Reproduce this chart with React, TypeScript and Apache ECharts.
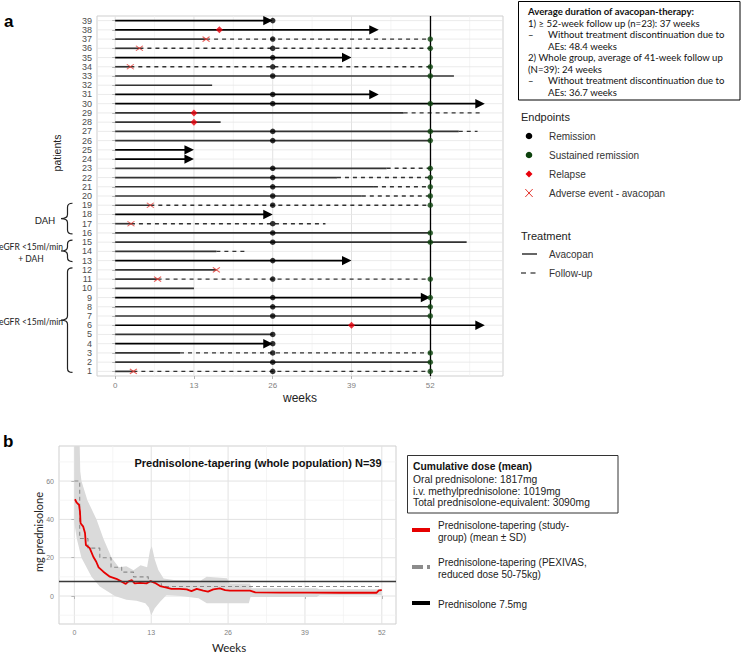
import React, { useEffect, useRef } from 'react';
import * as echarts from 'echarts';

// ---------------- DATA: panel a (patients timeline) ----------------
const patientLabels = ['1','2','3','4','5','6','7','8','9','10','11','12','13','14','15','16','17','18','19','20','21','22','23','24','25','26','27','28','29','30','31','32','33','34','35','36','37','38','39'];
// end of avacopan treatment (solid line), weeks, patient 1..39
const avacopanEnd = [3, 52, 10.7, 26, 26, 61, 52, 52, 52, 13, 7, 16.7, 39, 16.7, 58, 52, 2.6, 26, 5.8, 40.7, 42.7, 36.6, 44.8, 13, 13, 52, 56.7, 17.4, 47.6, 61, 43.5, 16, 55.9, 2.5, 39, 4, 15, 43.5, 26];
// end of follow-up (dashed line), weeks, patient 1..39
const followUpEnd = [52, null, 52, null, null, null, null, null, null, null, 52, null, null, 21.5, null, null, 34.7, null, 52, 52, 52, 52, 52, null, null, null, 59.8, null, 60.2, null, null, null, null, 52, null, 52, 52, null, null];
const ongoingPatients = [4, 6, 9, 13, 18, 24, 25, 30, 31, 35, 38, 39];
const remissionWeek = 26;
const remissionPatients = [1, 2, 3, 4, 5, 7, 8, 9, 11, 13, 15, 16, 17, 19, 20, 21, 22, 23, 26, 27, 30, 31, 33, 34, 35, 36, 37, 39];
const sustainedWeek = 52;
const sustainedPatients = [1, 2, 3, 7, 8, 9, 11, 15, 16, 19, 20, 21, 22, 23, 26, 27, 30, 33, 34, 36, 37];
const relapsePatients = [6, 28, 29, 38];
const relapseWeeks = [39, 13, 13, 17.2];
const aePatients = [1, 11, 12, 17, 19, 34, 36, 37];
const aeWeeks = [3, 7, 16.7, 2.6, 5.8, 2.5, 4, 15];
const weekTicks = [0, 13, 26, 39, 52];
const weekGrid = [0, 6.5, 13, 19.5, 26, 32.5, 39, 45.5, 52, 58.5];

// ---------------- DATA: panel b (prednisolone tapering) ----------------
const meanCurve = [[0.1, 50.5], [0.4, 48.7], [0.8, 47.5], [0.95, 44], [1.05, 38], [1.5, 36.2], [1.8, 32.9], [1.95, 26.6], [2.6, 25], [3.2, 20.5], [3.7, 17.9], [4.1, 15], [4.9, 12.7], [6.0, 10.1], [7.1, 9.0], [8.0, 7.5], [8.7, 6.3], [9.1, 7.5], [9.7, 8.3], [10.2, 6.6], [11.1, 6.9], [12.2, 6.6], [12.9, 7.8], [13.6, 6.9], [14.5, 5.2], [15.6, 4.4], [16.4, 3.7], [17.8, 3.7], [19, 3.5], [19.8, 2.6], [20.7, 3.7], [21.8, 2.8], [22.6, 2.3], [23.5, 3.5], [24.6, 4.0], [25.5, 3.1], [26.3, 2.8], [29.7, 2.8], [30.6, 1.9], [35, 1.8], [40, 1.8], [45, 1.7], [51.1, 1.7], [51.5, 3.0], [52, 3.1]];
const sdUpper = [[0, 85], [0.9, 85], [1.0, 65], [1.2, 60], [2.2, 50], [3.75, 40], [4.9, 30], [6.3, 20], [7.5, 15], [8.8, 15.5], [10, 13.5], [11.2, 16], [12.3, 15], [12.8, 24], [13.1, 26], [13.6, 19], [14.2, 13.6], [15.1, 9.2], [16.8, 8.4], [21.3, 8], [22.4, 10], [25.8, 9.3], [26.3, 6.6], [29.7, 6.6], [30, 4], [41, 4], [41.5, 3.5], [52, 3.5]];
const sdLower = [[0, 38], [0.4, 30], [1.2, 20], [2.9, 10], [4.3, 5], [6.85, 0], [8.8, -2], [10.5, -2.5], [12, -3.8], [12.6, -6], [13, -10], [13.6, -6.4], [14.5, -3], [15.6, 0.5], [18, 0], [21, -1.2], [22.4, -3.8], [26, -3.8], [29.5, -3.8], [29.8, -0.5], [41, -0.5], [41.5, 0.5], [52, 0.5]];
const pexivasCurve = [[0, 60], [0.9, 30], [2.3, 25], [4.3, 20], [6.2, 15], [8, 12.5], [10, 10], [12.5, 7.5], [14.7, 5], [52, 5]];
const referenceDose = 7.5;
const doseTicks = [0, 20, 40, 60];
const doseGrid = [-10, 0, 10, 20, 30, 40, 50, 60, 70];

const ARIAL = 'Liberation Sans, Arial, sans-serif';
const CALIBRI = 'Lato, Carlito, sans-serif';

echarts.graphic.registerShape('brace', echarts.graphic.extendShape({
  type: 'brace',
  shape: { x: 0, y1: 0, y2: 10, w: 11.5, v: 6.5 },
  buildPath(ctx: any, s: any) {
    const ym = (s.y1 + s.y2) / 2;
    const xv = s.x + s.v;
    const xe = s.x + s.w;
    ctx.moveTo(xe, s.y1);
    ctx.quadraticCurveTo(xv, s.y1, xv, s.y1 + 4);
    ctx.lineTo(xv, ym - 4);
    ctx.quadraticCurveTo(xv, ym, s.x, ym);
    ctx.quadraticCurveTo(xv, ym, xv, ym + 4);
    ctx.lineTo(xv, s.y2 - 4);
    ctx.quadraticCurveTo(xv, s.y2, xe, s.y2);
  },
}));

function vGrid(ai: number) {
  return {
    type: 'custom', xAxisIndex: ai, yAxisIndex: ai, z: 0, silent: true,
    data: weekGrid.map((v) => [v, 0]), encode: { x: 0, y: 1 },
    renderItem: (params: any, api: any) => {
      const cs = params.coordSys;
      const v = api.value(0);
      const x = api.coord([v, 0])[0];
      if (x < cs.x - 0.5 || x > cs.x + cs.width + 0.5) return null;
      const major = weekTicks.indexOf(v) >= 0;
      return { type: 'line', shape: { x1: x, y1: cs.y, x2: x, y2: cs.y + cs.height }, style: { stroke: major ? '#e2e2e2' : '#f0f0f0', lineWidth: major ? 1 : 0.7 } };
    },
  };
}

function buildOption() {
  const segs: any[] = [];
  for (let i = 0; i < 39; i++) {
    const p = i + 1;
    const fu = followUpEnd[i];
    const arrow = ongoingPatients.indexOf(p) >= 0 && fu == null ? 1 : 0;
    segs.push([i, 0, avacopanEnd[i], 0, arrow]);
    if (fu != null) segs.push([i, avacopanEnd[i], fu, 1, 0]);
  }
  return {
    animation: false,
    backgroundColor: '#ffffff',
    grid: [
      { left: 97, top: 16, width: 406, height: 360, show: true, borderColor: '#cfcfcf', borderWidth: 1, backgroundColor: '#fff' },
      { left: 59, top: 446, width: 337, height: 178, show: true, borderColor: '#cfcfcf', borderWidth: 1, backgroundColor: '#fff' },
    ],
    xAxis: [
      {
        type: 'value', gridIndex: 0, min: -3, max: 64,
        axisLine: { show: false }, splitLine: { show: false },
        axisTick: { show: true, customValues: weekTicks, length: 3, lineStyle: { color: '#b5b5b5' } },
        axisLabel: { customValues: weekTicks, fontSize: 8, color: '#7f7f7f', fontFamily: ARIAL, margin: 5 },
      },
      {
        type: 'value', gridIndex: 1, min: -2.6, max: 54.4,
        axisLine: { show: false }, splitLine: { show: false },
        axisTick: { show: true, customValues: weekTicks, length: 3, lineStyle: { color: '#b5b5b5' } },
        axisLabel: { customValues: weekTicks, fontSize: 7, color: '#7f7f7f', fontFamily: ARIAL, margin: 5 },
      },
    ],
    yAxis: [
      {
        type: 'category', gridIndex: 0, data: patientLabels,
        axisLine: { show: false }, splitLine: { show: false },
        axisTick: { show: true, alignWithLabel: true, length: 3, lineStyle: { color: '#b5b5b5' } },
        axisLabel: { interval: 0, fontSize: 9, lineHeight: 9, color: '#4d4d4d', fontFamily: ARIAL, margin: 5 },
      },
      {
        type: 'value', gridIndex: 1, min: -14.6, max: 78.3,
        axisLine: { show: false }, splitLine: { show: false },
        axisTick: { show: true, customValues: doseTicks, length: 3, lineStyle: { color: '#b5b5b5' } },
        axisLabel: { customValues: doseTicks, fontSize: 7, color: '#7f7f7f', fontFamily: ARIAL, margin: 5 },
      },
    ],
    series: [
      vGrid(0),
      {
        type: 'custom', xAxisIndex: 0, yAxisIndex: 0, z: 0, silent: true,
        data: patientLabels.map((_, i) => [0, i]), encode: { x: 0, y: 1 },
        renderItem: (params: any, api: any) => {
          const cs = params.coordSys;
          const y = api.coord([0, api.value(1)])[1];
          return { type: 'line', shape: { x1: cs.x, y1: y, x2: cs.x + cs.width, y2: y }, style: { stroke: '#e6e6e6', lineWidth: 0.8 } };
        },
      },
      {
        type: 'custom', xAxisIndex: 0, yAxisIndex: 0, z: 2, silent: true,
        data: segs, encode: { x: [1, 2], y: 0 },
        renderItem: (params: any, api: any) => {
          const idx = api.value(0);
          const s = api.value(1), e = api.value(2);
          const dashed = api.value(3) === 1;
          const arrow = api.value(4) === 1;
          const p1 = api.coord([s, idx]);
          const p2 = api.coord([e, idx]);
          const col = arrow ? '#000000' : '#333333';
          const children: any[] = [{
            type: 'line',
            shape: { x1: p1[0], y1: p1[1], x2: arrow ? p2[0] - 6 : p2[0], y2: p2[1] },
            style: { stroke: col, lineWidth: dashed ? 1.4 : 1.7, lineDash: dashed ? [4, 4] : null },
          }];
          if (arrow) {
            children.push({ type: 'polygon', shape: { points: [[p2[0], p2[1]], [p2[0] - 9.5, p2[1] - 4.7], [p2[0] - 9.5, p2[1] + 4.7]] }, style: { fill: '#000' } });
          }
          return { type: 'group', children };
        },
      },
      {
        type: 'scatter', xAxisIndex: 0, yAxisIndex: 0, z: 4, silent: true,
        data: remissionPatients.map((p) => [remissionWeek, p - 1]),
        symbol: 'circle', symbolSize: 5.5, itemStyle: { color: '#000' },
        markLine: {
          silent: true, symbol: ['none', 'none'], label: { show: false },
          lineStyle: { color: '#000', width: 1.3, type: 'solid' },
          data: [{ xAxis: sustainedWeek }],
        },
      },
      {
        type: 'scatter', xAxisIndex: 0, yAxisIndex: 0, z: 5, silent: true,
        data: sustainedPatients.map((p) => [sustainedWeek, p - 1]),
        symbol: 'circle', symbolSize: 5.5, itemStyle: { color: '#0d420d' },
      },
      {
        type: 'scatter', xAxisIndex: 0, yAxisIndex: 0, z: 5, silent: true,
        data: relapsePatients.map((p, i) => [relapseWeeks[i], p - 1]),
        symbol: 'diamond', symbolSize: 7, itemStyle: { color: '#e8000b' },
      },
      {
        type: 'scatter', xAxisIndex: 0, yAxisIndex: 0, z: 5, silent: true,
        data: aePatients.map((p, i) => [aeWeeks[i], p - 1]),
        symbol: 'path://M0,0L10,7M10,0L0,7', symbolSize: [7, 5],
        itemStyle: { color: 'transparent', borderColor: '#e3372f', borderWidth: 1 },
      },
      // ---------- panel b ----------
      vGrid(1),
      {
        type: 'custom', xAxisIndex: 1, yAxisIndex: 1, z: 0, silent: true,
        data: doseGrid.map((v) => [0, v]), encode: { x: 0, y: 1 },
        renderItem: (params: any, api: any) => {
          const cs = params.coordSys;
          const v = api.value(1);
          const y = api.coord([0, v])[1];
          const major = doseTicks.indexOf(v) >= 0;
          return { type: 'line', shape: { x1: cs.x, y1: y, x2: cs.x + cs.width, y2: y }, style: { stroke: major ? '#e2e2e2' : '#f0f0f0', lineWidth: major ? 1 : 0.7 } };
        },
      },
      {
        type: 'custom', xAxisIndex: 1, yAxisIndex: 1, z: 1, silent: true, clip: true,
        data: [[0, 0]], encode: { x: 0, y: 1 },
        renderItem: (params: any, api: any) => {
          const cs = params.coordSys;
          const clampY = (pt: number[]) => [pt[0], Math.max(cs.y, Math.min(cs.y + cs.height, pt[1]))];
          const pts = sdUpper.map((p) => clampY(api.coord(p))).concat(sdLower.slice().reverse().map((p) => clampY(api.coord(p))));
          return { type: 'polygon', shape: { points: pts }, style: { fill: '#dadada' } };
        },
      },
      {
        type: 'line', xAxisIndex: 1, yAxisIndex: 1, z: 3, silent: true,
        data: pexivasCurve, step: 'end', showSymbol: false, symbol: 'none',
        lineStyle: { color: '#8a8a8a', width: 1.1, type: [4, 3] },
        markLine: {
          silent: true, symbol: ['none', 'none'], label: { show: false },
          lineStyle: { color: '#3a3a3a', width: 1.3, type: 'solid' },
          data: [{ yAxis: referenceDose }],
        },
      },
      {
        type: 'line', xAxisIndex: 1, yAxisIndex: 1, z: 4, silent: true,
        data: meanCurve, showSymbol: false, symbol: 'none',
        lineStyle: { color: '#e60000', width: 1.8 },
      },
    ],
  };
}

function txt(text: string, x: number, y: number, o: any = {}) {
  return {
    type: 'text', x, y, silent: true, rotation: o.rotation || 0, z: 10,
    style: {
      text, fill: o.color || '#222', fontSize: o.size || 10, fontFamily: o.family || ARIAL,
      fontWeight: o.weight || 'normal', align: o.align || 'left', verticalAlign: 'middle',
    },
  };
}

function buildGraphics(chart: any) {
  const py = (idx: number) => chart.convertToPixel({ gridIndex: 0 }, [0, idx])[1];
  const brace = (top: number, bottom: number) => ({
    type: 'brace', z: 10, silent: true,
    shape: { x: 61, y1: py(top - 1) - 2, y2: py(bottom - 1) + 1, w: 11.5, v: 6.5 },
    style: { stroke: '#222', fill: 'none', lineWidth: 1.2 },
  });
  const g: any[] = [];
  // panel labels and axis titles
  g.push(txt('a', 4, 21, { size: 17, weight: 'bold', color: '#000' }));
  g.push(txt('b', 3, 441, { size: 17, weight: 'bold', color: '#000' }));
  g.push(txt('patients', 57, 153, { size: 10.5, align: 'center', rotation: Math.PI / 2 }));
  g.push(txt('weeks', 300, 398, { size: 12, align: 'center' }));
  g.push(txt('Weeks', 229, 647, { size: 11.5, align: 'center', family: CALIBRI }));
  g.push(txt('mg prednisolone', 38, 532, { size: 11, align: 'center', rotation: Math.PI / 2, family: CALIBRI }));
  g.push(txt('Prednisolone-tapering (whole population) N=39', 258, 463, { size: 11, weight: 'bold', align: 'center', color: '#111' }));
  // group brackets
  g.push(brace(19, 16));
  g.push(brace(15, 13));
  g.push(brace(12, 1));
  g.push(txt('DAH', 45, 220, { size: 9.5, align: 'center', family: CALIBRI }));
  g.push(txt('eGFR <15ml/min', 31, 247, { size: 8.5, align: 'center', family: CALIBRI }));
  g.push(txt('+ DAH', 31, 258.5, { size: 8.5, align: 'center', family: CALIBRI }));
  g.push(txt('eGFR <15ml/min', 31, 322, { size: 8.5, align: 'center', family: CALIBRI }));
  // top-right info box
  g.push({ type: 'rect', z: 9, silent: true, shape: { x: 518.5, y: 1.5, width: 221.5, height: 98.5 }, style: { fill: '#fff', stroke: '#000', lineWidth: 1 } });
  const boxLines: [string, number, number, boolean][] = [
    ['Average duration of avacopan-therapy:', 528, 11, true],
    ['1) \u2265 52-week follow up (n=23): 37 weeks', 528, 23, false],
    ['\u2013', 528, 34.5, false],
    ['Without treatment discontinuation due to', 548, 34.5, false],
    ['AEs: 48.4 weeks', 548, 46, false],
    ['2) Whole group, average of 41-week follow up', 528, 57.5, false],
    ['(N=39): 24 weeks', 528, 69, false],
    ['\u2013', 528, 80.5, false],
    ['Without treatment discontinuation due to', 548, 80.5, false],
    ['AEs: 36.7 weeks', 548, 92, false],
  ];
  boxLines.forEach(([t, x, y, b]) => g.push(txt(t, x, y, { size: 9.6, family: CALIBRI, weight: b ? 'bold' : 'normal', color: '#111' })));
  // endpoints legend
  g.push(txt('Endpoints', 521, 117, { size: 11, color: '#222' }));
  g.push({ type: 'circle', z: 10, silent: true, shape: { cx: 529, cy: 136, r: 3.3 }, style: { fill: '#000' } });
  g.push({ type: 'circle', z: 10, silent: true, shape: { cx: 529, cy: 155, r: 3.3 }, style: { fill: '#0d420d' } });
  g.push({ type: 'polygon', z: 10, silent: true, shape: { points: [[529, 170.5], [532.5, 174], [529, 177.5], [525.5, 174]] }, style: { fill: '#e8000b' } });
  g.push({ type: 'line', z: 10, silent: true, shape: { x1: 525.3, y1: 189, x2: 532.7, y2: 197 }, style: { stroke: '#e3372f', lineWidth: 1 } });
  g.push({ type: 'line', z: 10, silent: true, shape: { x1: 532.7, y1: 189, x2: 525.3, y2: 197 }, style: { stroke: '#e3372f', lineWidth: 1 } });
  g.push(txt('Remission', 549, 136, { size: 10, color: '#333' }));
  g.push(txt('Sustained remission', 549, 155, { size: 10, color: '#333' }));
  g.push(txt('Relapse', 549, 174, { size: 10, color: '#333' }));
  g.push(txt('Adverse event - avacopan', 549, 193, { size: 10, color: '#333' }));
  // treatment legend
  g.push(txt('Treatment', 521, 236, { size: 11, color: '#222' }));
  g.push({ type: 'line', z: 10, silent: true, shape: { x1: 522, y1: 254, x2: 537, y2: 254 }, style: { stroke: '#000', lineWidth: 1.2 } });
  g.push({ type: 'line', z: 10, silent: true, shape: { x1: 521, y1: 273, x2: 537, y2: 273 }, style: { stroke: '#000', lineWidth: 1.2, lineDash: [5, 4.5] } });
  g.push(txt('Avacopan', 549, 254, { size: 10, color: '#333' }));
  g.push(txt('Follow-up', 549, 273, { size: 10, color: '#333' }));
  // panel b legend
  g.push({ type: 'rect', z: 9, silent: true, shape: { x: 407.5, y: 455.5, width: 210.5, height: 57.5 }, style: { fill: '#fff', stroke: '#333', lineWidth: 1 } });
  g.push(txt('Cumulative dose (mean)', 413, 466, { size: 10.3, weight: 'bold', color: '#111' }));
  g.push(txt('Oral prednisolone: 1817mg', 413, 479, { size: 10.3, color: '#222' }));
  g.push(txt('i.v. methylprednisolone: 1019mg', 413, 491, { size: 10.3, color: '#222' }));
  g.push(txt('Total prednisolone-equivalent: 3090mg', 413, 502, { size: 10.3, color: '#222' }));
  g.push({ type: 'rect', z: 10, silent: true, shape: { x: 412, y: 528, width: 18, height: 4 }, style: { fill: '#e60000' } });
  g.push(txt('Prednisolone-tapering (study-', 438, 525, { size: 10, color: '#222' }));
  g.push(txt('group) (mean \u00b1 SD)', 438, 537, { size: 10, color: '#222' }));
  g.push({ type: 'rect', z: 10, silent: true, shape: { x: 412, y: 565, width: 11, height: 4 }, style: { fill: '#8c8c8c' } });
  g.push({ type: 'rect', z: 10, silent: true, shape: { x: 427, y: 565, width: 3, height: 4 }, style: { fill: '#8c8c8c' } });
  g.push(txt('Prednisolone-tapering (PEXIVAS,', 438, 562, { size: 10, color: '#222' }));
  g.push(txt('reduced dose 50-75kg)', 438, 574, { size: 10, color: '#222' }));
  g.push({ type: 'rect', z: 10, silent: true, shape: { x: 412, y: 601, width: 18, height: 4 }, style: { fill: '#000' } });
  g.push(txt('Prednisolone 7.5mg', 438, 604, { size: 10, color: '#222' }));
  return g;
}

export default function App() {
  const ref = useRef<HTMLDivElement>(null);
  useEffect(() => {
    document.body.style.margin = '0';
    const chart = echarts.init(ref.current as HTMLDivElement, null, { renderer: 'svg' });
    chart.setOption(buildOption() as any);
    chart.setOption({ graphic: buildGraphics(chart) } as any);
    return () => chart.dispose();
  }, []);
  return <div ref={ref} style={{ width: 741, height: 658 }} />;
}
